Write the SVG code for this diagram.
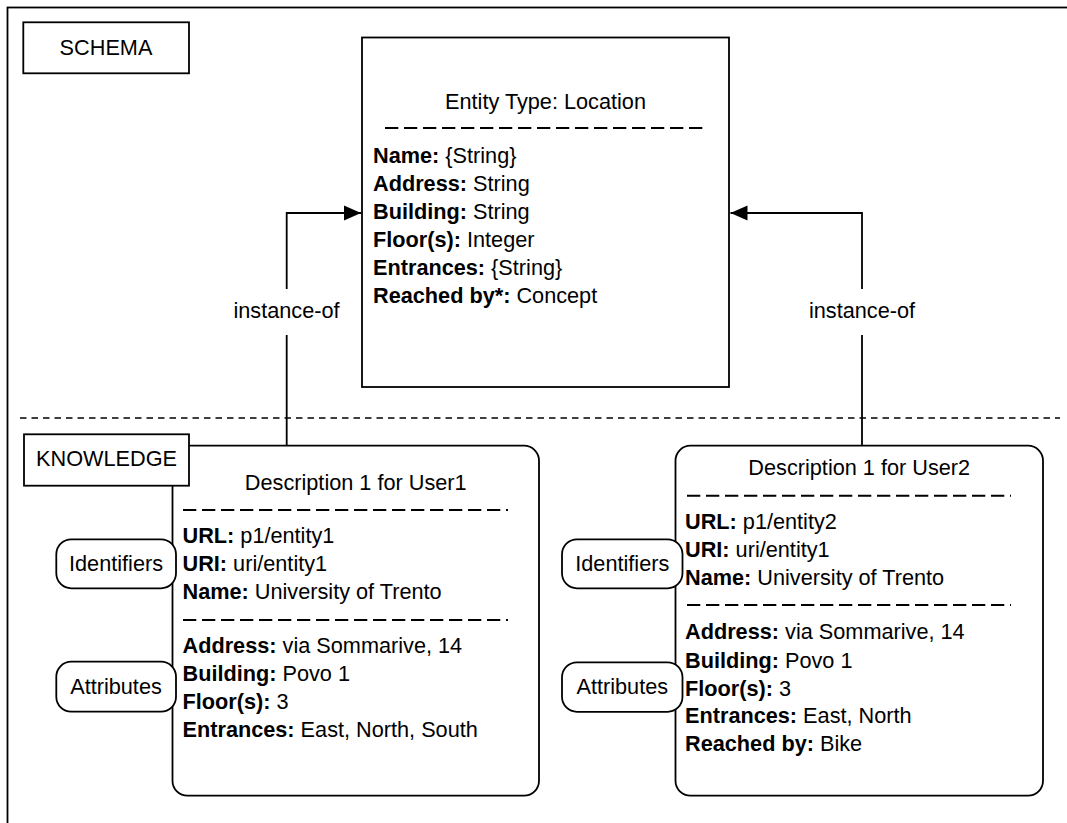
<svg xmlns="http://www.w3.org/2000/svg" width="1067" height="823" viewBox="0 0 1067 823">
<style>
text{font-family:"Liberation Sans",Arial,Helvetica,sans-serif;font-size:21.7px;fill:#000}
.c{text-anchor:middle}
.b{font-weight:bold}
.box{fill:#fff;stroke:#000;stroke-width:1.8}
.sep{fill:none;stroke:#000;stroke-width:2;stroke-dasharray:13.3 5.7}
.ln{fill:none;stroke:#000;stroke-width:1.8}
</style>
<defs>
<marker id="arr" markerUnits="userSpaceOnUse" markerWidth="18" markerHeight="16" refX="17" refY="8" orient="auto">
<path d="M0,0.5 L17,8 L0,15.5 Z" fill="#000"/>
</marker>
</defs>
<rect width="1067" height="823" fill="#fff"/>
<g id="frame">
<rect x="7.5" y="7.5" width="1100" height="900" fill="none" stroke="#000" stroke-width="1.8"/>
<line x1="20" y1="418" x2="1060" y2="418" stroke="#000" stroke-width="1.6" stroke-dasharray="6.5 5"/>
</g>
<g id="connectors">
<path class="ln" d="M286.7,445.7 V213 H361" marker-end="url(#arr)"/>
<path class="ln" d="M862,445.7 V213 H730.5" marker-end="url(#arr)"/>
<rect x="228" y="289" width="117" height="46" fill="#fff"/>
<text class="c" x="286.5" y="318.3">instance-of</text>
<rect x="803" y="289" width="117" height="46" fill="#fff"/>
<text class="c" x="862" y="318">instance-of</text>
</g>
<g id="schema-label">
<rect class="box" x="23.3" y="22.3" width="165.7" height="51"/>
<text class="c" x="106" y="55">SCHEMA</text>
</g>
<g id="entity-type">
<rect class="box" x="362" y="37.5" width="367" height="349.5"/>
<text class="c" x="545.5" y="109">Entity Type: Location</text>
<line class="sep" x1="385" y1="128" x2="706" y2="128"/>
<text x="373" y="163"><tspan class="b">Name:</tspan> {String}</text>
<text x="373" y="190.9"><tspan class="b">Address:</tspan> String</text>
<text x="373" y="218.8"><tspan class="b">Building:</tspan> String</text>
<text x="373" y="246.7"><tspan class="b">Floor(s):</tspan> Integer</text>
<text x="373" y="274.6"><tspan class="b">Entrances:</tspan> {String}</text>
<text x="373" y="302.5"><tspan class="b">Reached by*:</tspan> Concept</text>
</g>
<g id="desc-user1">
<rect class="box" x="172.5" y="445.7" width="366.5" height="350" rx="15" ry="15"/>
<text class="c" x="355.75" y="490">Description 1 for User1</text>
<line class="sep" x1="183" y1="510" x2="508" y2="510"/>
<text x="182.5" y="542.7"><tspan class="b">URL:</tspan> p1/entity1</text>
<text x="182.5" y="570.7"><tspan class="b">URI:</tspan> uri/entity1</text>
<text x="182.5" y="599"><tspan class="b">Name:</tspan> University of Trento</text>
<line class="sep" x1="183" y1="620" x2="508" y2="620"/>
<text x="182.5" y="653.3"><tspan class="b">Address:</tspan> via Sommarive, 14</text>
<text x="182.5" y="681"><tspan class="b">Building:</tspan> Povo 1</text>
<text x="182.5" y="709"><tspan class="b">Floor(s):</tspan> 3</text>
<text x="182.5" y="736.7"><tspan class="b">Entrances:</tspan> East, North, South</text>
</g>
<g id="knowledge-label">
<rect class="box" x="24" y="434.3" width="165" height="51.4"/>
<text class="c" x="106.5" y="465.7">KNOWLEDGE</text>
</g>
<g id="identifiers-1">
<rect class="box" x="56.3" y="539.3" width="119.7" height="49" rx="15" ry="15"/>
<text class="c" x="116" y="571">Identifiers</text>
</g>
<g id="attributes-1">
<rect class="box" x="56.3" y="661.7" width="119.7" height="50" rx="15" ry="15"/>
<text class="c" x="116" y="693.5">Attributes</text>
</g>
<g id="desc-user2">
<rect class="box" x="675.5" y="445.7" width="367.5" height="350" rx="15" ry="15"/>
<text class="c" x="859.25" y="475">Description 1 for User2</text>
<line class="sep" x1="687" y1="495.7" x2="1011" y2="495.7"/>
<text x="685" y="529.3"><tspan class="b">URL:</tspan> p1/entity2</text>
<text x="685" y="557.3"><tspan class="b">URI:</tspan> uri/entity1</text>
<text x="685" y="585"><tspan class="b">Name:</tspan> University of Trento</text>
<line class="sep" x1="687" y1="605" x2="1011" y2="605"/>
<text x="685" y="639.3"><tspan class="b">Address:</tspan> via Sommarive, 14</text>
<text x="685" y="667.7"><tspan class="b">Building:</tspan> Povo 1</text>
<text x="685" y="695.7"><tspan class="b">Floor(s):</tspan> 3</text>
<text x="685" y="723.3"><tspan class="b">Entrances:</tspan> East, North</text>
<text x="685" y="751"><tspan class="b">Reached by:</tspan> Bike</text>
</g>
<g id="identifiers-2">
<rect class="box" x="562" y="539.3" width="120.5" height="49" rx="15" ry="15"/>
<text class="c" x="622.3" y="571">Identifiers</text>
</g>
<g id="attributes-2">
<rect class="box" x="562" y="662.3" width="120.5" height="49.5" rx="15" ry="15"/>
<text class="c" x="622.3" y="693.5">Attributes</text>
</g>
</svg>
